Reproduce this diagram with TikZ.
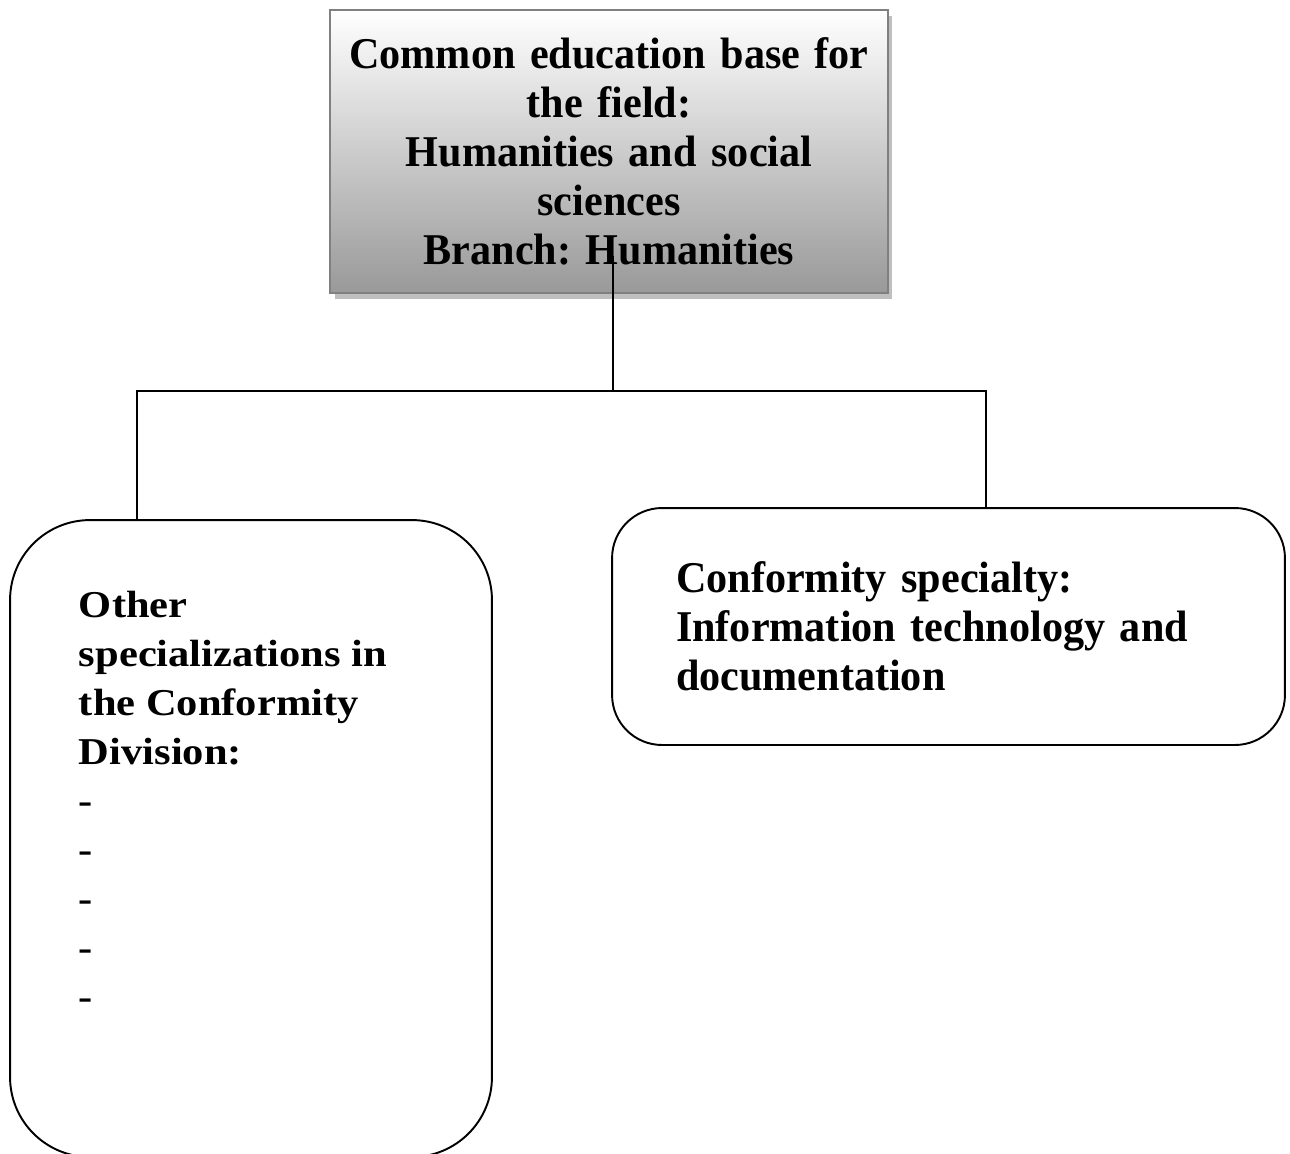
\documentclass[tikz,border=0pt]{standalone}
\usepackage{fontspec}
\setmainfont{Liberation Serif}
\newfontfamily\narrowserif[FakeStretch=0.96]{Liberation Serif}
\newfontfamily\wideserif[FakeStretch=1.12]{Liberation Serif}
\usetikzlibrary{shadows}
\frenchspacing

\begin{document}
\begin{tikzpicture}[
  x=0.02cm, y=-0.02cm,
  line width=1.1pt,
  basebox/.style={draw=black!50, line width=1.6pt, rectangle, top color=white, bottom color=black!40,
    minimum width=11.16cm, minimum height=5.66cm, text width=10.6cm, align=center, inner sep=0pt,
    font=\narrowserif\bfseries\fontsize{25}{27.9}\selectfont,
    drop shadow={shadow xshift=0.09cm, shadow yshift=-0.12cm, fill=black!25, opacity=1}},
  specbox/.style={draw, rectangle, rounded corners=1cm, minimum width=13.46cm, minimum height=4.74cm,
    text width=10.9cm, align=left, inner sep=0pt,
    font=\narrowserif\bfseries\fontsize{25}{27.9}\selectfont},
  otherbox/.style={draw, rectangle, rounded corners=1.6cm, minimum width=9.64cm, minimum height=12.74cm},
  othertext/.style={align=left, inner sep=0pt, font=\wideserif\bfseries\fontsize{21.6}{27.9}\selectfont}
]
\useasboundingbox (0,0) rectangle (1290,1153);

% Boxes
\node[basebox] (base) at (609,151.5) {Common education base for\\the field:\\Humanities and social\\sciences\\Branch: Humanities};
\node[otherbox] (other) at (251,838.5) {};
\node[othertext, anchor=north west] (othernote) at (78,590) {Other\\specializations in\\the Conformity\\Division:\\-\\-\\-\\-\\-};
\node[specbox] (specialty) at (948.5,626.5) {Conformity specialty:\\Information technology and\\documentation};

% Connectors
\coordinate (split) at (613,391);
\coordinate (leftdrop) at (137,391);
\coordinate (rightdrop) at (986,391);
\draw ([yshift=0.76cm]base.south -| split) -- (split);
\draw (other.north -| leftdrop) -- (leftdrop) -- (rightdrop) -- (specialty.north -| rightdrop);

\end{tikzpicture}
\end{document}
